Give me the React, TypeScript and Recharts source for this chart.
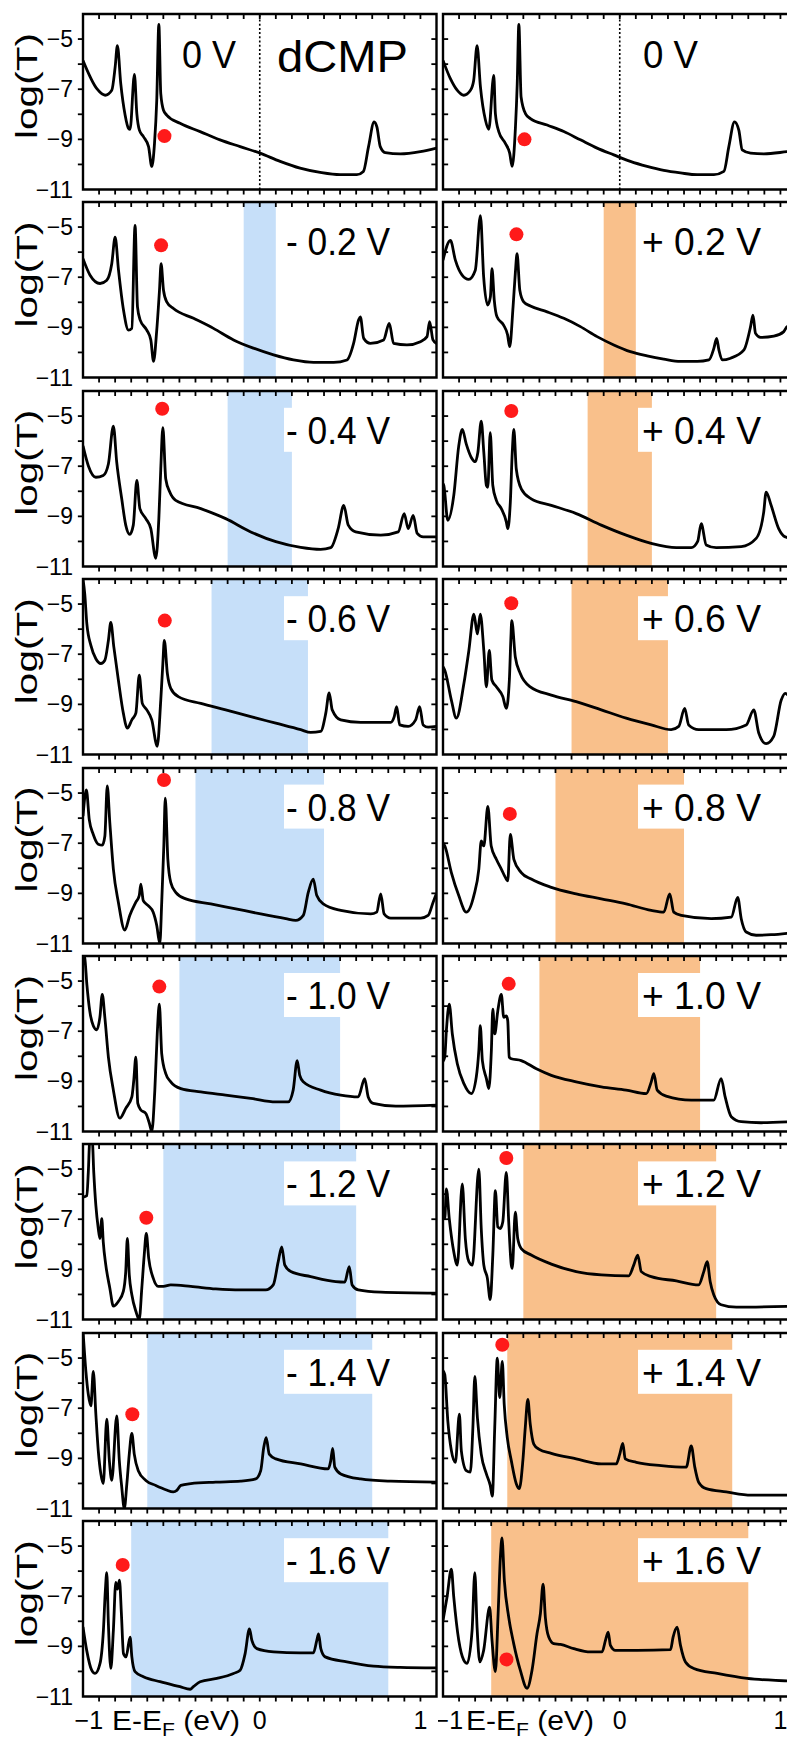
import React from 'react';
import { ComposedChart, Line, XAxis, YAxis, ReferenceArea, ReferenceDot, ReferenceLine } from 'recharts';

const FONT = "'Liberation Sans', Arial, Helvetica, sans-serif";

// ---- axis ticks ----
const X_TICKS = [-1, -0.9, -0.8, -0.7, -0.6, -0.5, -0.4, -0.3, -0.2, -0.1, 0, 0.1, 0.2, 0.3, 0.4, 0.5, 0.6, 0.7, 0.8, 0.9, 1];
const X_LABELS = [-1, 0, 1];
const Y_TICKS = [-11, -10, -9, -8, -7, -6, -5, -4];
const Y_MARKS = [-10, -9, -8, -7, -6, -5];
const Y_LABELS = [-11, -9, -7, -5];
const X_DOMAIN = [-1.1, 1.1];
const Y_DOMAIN = [-11, -4];

// ---- bias voltages (V) and labels ----
const BIAS = [0, 0.2, 0.4, 0.6, 0.8, 1.0, 1.2, 1.4, 1.6];
const LEFT_LABELS = ['0 V', '- 0.2 V', '- 0.4 V', '- 0.6 V', '- 0.8 V', '- 1.0 V', '- 1.2 V', '- 1.4 V', '- 1.6 V'];
const RIGHT_LABELS = ['0 V', '+ 0.2 V', '+ 0.4 V', '+ 0.6 V', '+ 0.8 V', '+ 1.0 V', '+ 1.2 V', '+ 1.4 V', '+ 1.6 V'];

// ---- transmission curves: [E-EF (eV), log(T)] ----
const curveL0 = [[-1.1,-5.86],[-1.014,-6.98],[-0.962,-7.24],[-0.921,-7.04],[-0.9,-6.12],[-0.886,-5.26],[-0.865,-6.78],[-0.838,-8.03],[-0.817,-8.56],[-0.807,-8.6],[-0.78,-6.41],[-0.765,-7.97],[-0.749,-8.63],[-0.724,-8.89],[-0.692,-9.29],[-0.672,-10.08],[-0.655,-9.16],[-0.641,-7.44],[-0.628,-4.41],[-0.616,-7.18],[-0.599,-7.84],[-0.579,-8.03],[-0.496,-8.36],[-0.371,-8.69],[-0.247,-9.02],[-0.122,-9.29],[0.002,-9.55],[0.127,-9.88],[0.251,-10.15],[0.376,-10.32],[0.5,-10.41],[0.604,-10.41],[0.645,-10.28],[0.677,-9.29],[0.712,-8.3],[0.729,-8.5],[0.75,-9.29],[0.781,-9.53],[0.875,-9.58],[1.0,-9.49],[1.1,-9.35]];
const curveR0 = [[-1.1,-5.85],[-1.054,-6.58],[-1.012,-7.04],[-0.971,-7.24],[-0.929,-7.04],[-0.909,-6.65],[-0.888,-5.26],[-0.867,-6.91],[-0.836,-8.23],[-0.815,-8.6],[-0.784,-6.45],[-0.774,-7.97],[-0.753,-8.69],[-0.712,-9.16],[-0.685,-9.55],[-0.67,-10.08],[-0.649,-8.5],[-0.638,-6.78],[-0.628,-4.41],[-0.614,-7.31],[-0.587,-7.97],[-0.556,-8.17],[-0.452,-8.43],[-0.348,-8.69],[-0.245,-9.02],[-0.141,-9.35],[-0.037,-9.62],[0.066,-9.88],[0.17,-10.08],[0.274,-10.24],[0.378,-10.34],[0.482,-10.41],[0.586,-10.41],[0.648,-10.28],[0.679,-9.29],[0.714,-8.3],[0.741,-8.63],[0.762,-9.42],[0.814,-9.55],[0.897,-9.58],[1.042,-9.49],[1.1,-9.45]];
const curveL1 = [[-1.1,-6.26],[-1.056,-6.92],[-0.994,-7.25],[-0.952,-7.12],[-0.921,-6.46],[-0.9,-5.4],[-0.879,-6.72],[-0.848,-8.31],[-0.817,-9.11],[-0.796,-9.04],[-0.776,-4.93],[-0.761,-8.18],[-0.744,-8.71],[-0.703,-9.11],[-0.678,-9.5],[-0.661,-10.36],[-0.641,-9.11],[-0.624,-7.52],[-0.614,-6.46],[-0.599,-7.52],[-0.579,-7.98],[-0.537,-8.25],[-0.412,-8.64],[-0.288,-9.04],[-0.163,-9.5],[-0.039,-9.83],[0.086,-10.1],[0.21,-10.3],[0.335,-10.4],[0.46,-10.4],[0.543,-10.3],[0.584,-9.64],[0.615,-8.71],[0.626,-8.58],[0.647,-9.44],[0.688,-9.64],[0.771,-9.5],[0.806,-8.84],[0.833,-9.64],[0.916,-9.7],[1.0,-9.57],[1.041,-9.37],[1.057,-8.77],[1.078,-9.5],[1.1,-9.64]];
const curveR1 = [[-1.1,-6.32],[-1.054,-5.53],[-1.023,-6.32],[-0.981,-6.92],[-0.94,-7.09],[-0.899,-6.72],[-0.867,-4.54],[-0.847,-6.99],[-0.822,-8.11],[-0.805,-7.78],[-0.795,-6.66],[-0.781,-7.91],[-0.764,-8.58],[-0.723,-8.91],[-0.698,-9.3],[-0.685,-9.77],[-0.664,-8.18],[-0.65,-6.85],[-0.639,-6.06],[-0.622,-7.52],[-0.598,-7.98],[-0.556,-8.15],[-0.452,-8.38],[-0.348,-8.64],[-0.245,-8.97],[-0.141,-9.37],[-0.037,-9.7],[0.066,-9.97],[0.17,-10.14],[0.274,-10.27],[0.378,-10.36],[0.482,-10.36],[0.555,-10.3],[0.586,-9.83],[0.603,-9.44],[0.617,-9.9],[0.638,-10.3],[0.69,-10.23],[0.773,-9.9],[0.814,-8.97],[0.829,-8.51],[0.845,-9.24],[0.876,-9.4],[0.959,-9.35],[1.021,-9.17],[1.042,-8.97],[1.1,-8.9]];
const curveL2 = [[-1.1,-6.19],[-1.067,-6.98],[-1.02,-7.44],[-0.974,-7.37],[-0.942,-6.91],[-0.911,-5.4],[-0.89,-6.85],[-0.859,-8.3],[-0.834,-9.35],[-0.809,-9.72],[-0.787,-9.35],[-0.765,-7.57],[-0.746,-8.69],[-0.709,-9.09],[-0.678,-9.49],[-0.647,-10.67],[-0.628,-9.09],[-0.616,-7.11],[-0.603,-5.46],[-0.585,-7.51],[-0.56,-8.03],[-0.523,-8.36],[-0.367,-8.69],[-0.212,-9.09],[-0.056,-9.62],[0.1,-10.01],[0.255,-10.24],[0.379,-10.32],[0.442,-10.25],[0.488,-9.49],[0.523,-8.56],[0.551,-9.35],[0.597,-9.62],[0.753,-9.75],[0.862,-9.62],[0.899,-8.89],[0.924,-9.49],[0.955,-8.96],[0.98,-9.68],[1.017,-9.82],[1.1,-9.82]];
const curveR2 = [[-1.1,-7.7],[-1.095,-7.77],[-1.07,-9.16],[-1.033,-8.17],[-1.002,-6.19],[-0.98,-5.53],[-0.955,-6.12],[-0.924,-6.65],[-0.899,-6.82],[-0.883,-6.45],[-0.862,-5.2],[-0.846,-6.45],[-0.83,-7.77],[-0.821,-7.84],[-0.806,-5.66],[-0.79,-7.77],[-0.768,-8.36],[-0.737,-8.69],[-0.706,-9.22],[-0.697,-9.49],[-0.681,-8.43],[-0.669,-6.45],[-0.659,-5.53],[-0.644,-7.11],[-0.613,-7.9],[-0.551,-8.3],[-0.426,-8.56],[-0.271,-8.89],[-0.115,-9.35],[0.04,-9.75],[0.196,-10.08],[0.352,-10.25],[0.445,-10.25],[0.485,-10.0],[0.507,-9.29],[0.538,-10.14],[0.6,-10.25],[0.756,-10.21],[0.849,-9.88],[0.896,-8.83],[0.911,-8.03],[0.942,-8.56],[0.989,-9.49],[1.03,-9.82],[1.1,-9.9]];
const curveL3 = [[-1.1,-4.0],[-1.089,-4.6],[-1.076,-5.79],[-1.051,-6.65],[-1.02,-7.18],[-0.989,-7.37],[-0.964,-7.24],[-0.942,-6.45],[-0.927,-5.73],[-0.908,-6.72],[-0.88,-8.03],[-0.849,-9.35],[-0.824,-9.95],[-0.796,-9.62],[-0.771,-9.35],[-0.75,-7.84],[-0.731,-8.96],[-0.703,-9.22],[-0.672,-9.62],[-0.638,-10.67],[-0.616,-8.83],[-0.603,-7.37],[-0.594,-6.45],[-0.575,-7.77],[-0.554,-8.36],[-0.507,-8.69],[-0.367,-8.96],[-0.212,-9.22],[-0.056,-9.49],[0.1,-9.75],[0.255,-10.01],[0.317,-10.12],[0.379,-10.08],[0.411,-9.35],[0.432,-8.54],[0.451,-9.22],[0.504,-9.62],[0.628,-9.72],[0.815,-9.72],[0.837,-9.49],[0.852,-9.09],[0.871,-9.82],[0.924,-9.88],[0.97,-9.62],[0.995,-9.09],[1.017,-9.82],[1.048,-9.91],[1.1,-9.88]];
const curveR3 = [[-1.1,-7.5],[-1.089,-7.64],[-1.048,-8.83],[-1.017,-9.55],[-0.97,-8.17],[-0.939,-6.85],[-0.908,-5.4],[-0.886,-6.19],[-0.868,-5.4],[-0.846,-6.85],[-0.83,-8.3],[-0.812,-6.85],[-0.796,-8.03],[-0.768,-8.3],[-0.728,-8.69],[-0.706,-9.16],[-0.687,-8.03],[-0.678,-6.45],[-0.672,-5.66],[-0.65,-7.11],[-0.619,-7.77],[-0.557,-8.3],[-0.426,-8.63],[-0.271,-8.89],[-0.115,-9.22],[0.04,-9.55],[0.196,-9.82],[0.32,-10.01],[0.367,-9.88],[0.404,-9.16],[0.429,-9.82],[0.491,-10.01],[0.663,-10.01],[0.787,-9.82],[0.834,-9.22],[0.865,-10.14],[0.911,-10.57],[0.958,-10.28],[1.005,-8.83],[1.03,-8.56],[1.1,-9.5]];
const curveL4 = [[-1.1,-5.92],[-1.079,-4.87],[-1.061,-6.06],[-1.036,-6.65],[-1.005,-7.04],[-0.98,-7.08],[-0.964,-6.72],[-0.949,-4.71],[-0.933,-6.19],[-0.911,-8.03],[-0.88,-9.35],[-0.84,-10.47],[-0.809,-9.88],[-0.771,-9.35],[-0.75,-9.09],[-0.74,-8.63],[-0.725,-9.29],[-0.694,-9.49],[-0.663,-9.75],[-0.641,-10.28],[-0.622,-11.0],[-0.61,-9.35],[-0.597,-7.11],[-0.588,-5.2],[-0.572,-7.64],[-0.554,-8.56],[-0.523,-8.96],[-0.46,-9.22],[-0.305,-9.42],[-0.149,-9.62],[0.006,-9.82],[0.162,-10.01],[0.224,-10.08],[0.271,-9.88],[0.302,-8.96],[0.333,-8.43],[0.355,-9.09],[0.395,-9.42],[0.504,-9.68],[0.691,-9.82],[0.728,-9.75],[0.753,-9.02],[0.774,-9.82],[0.815,-9.99],[1.002,-9.99],[1.048,-9.88],[1.079,-9.35],[1.1,-9.0]];
const curveR4 = [[-1.1,-7.0],[-1.089,-7.11],[-1.048,-8.17],[-1.002,-9.09],[-0.955,-9.75],[-0.908,-9.09],[-0.877,-8.03],[-0.862,-6.91],[-0.846,-7.11],[-0.821,-5.53],[-0.8,-7.11],[-0.768,-7.64],[-0.737,-8.03],[-0.706,-8.43],[-0.697,-8.5],[-0.681,-6.65],[-0.659,-7.64],[-0.613,-8.17],[-0.551,-8.43],[-0.426,-8.76],[-0.271,-9.02],[-0.115,-9.22],[0.04,-9.42],[0.196,-9.68],[0.274,-9.75],[0.311,-9.02],[0.336,-9.75],[0.383,-9.88],[0.569,-10.01],[0.694,-9.95],[0.734,-9.16],[0.756,-10.01],[0.787,-10.54],[0.849,-10.67],[0.942,-10.65],[1.1,-10.55]];
const curveL5 = [[-1.1,-3.9],[-1.089,-4.08],[-1.076,-5.13],[-1.058,-6.19],[-1.036,-6.78],[-1.014,-6.95],[-0.995,-6.45],[-0.98,-5.53],[-0.964,-6.45],[-0.942,-8.03],[-0.911,-9.35],[-0.871,-10.47],[-0.834,-10.08],[-0.796,-9.62],[-0.784,-8.96],[-0.771,-8.03],[-0.759,-9.88],[-0.74,-10.14],[-0.709,-10.28],[-0.687,-10.67],[-0.672,-11.0],[-0.653,-9.35],[-0.638,-7.11],[-0.625,-5.92],[-0.61,-7.9],[-0.585,-8.69],[-0.554,-9.02],[-0.491,-9.29],[-0.367,-9.42],[-0.212,-9.55],[-0.056,-9.68],[0.1,-9.82],[0.177,-9.82],[0.208,-9.35],[0.233,-8.17],[0.249,-8.76],[0.271,-9.02],[0.379,-9.35],[0.504,-9.55],[0.613,-9.62],[0.653,-8.89],[0.675,-9.62],[0.706,-9.88],[0.846,-9.99],[1.1,-9.95]];
const curveR5 = [[-1.1,-8.2],[-1.089,-8.03],[-1.079,-6.98],[-1.061,-5.92],[-1.042,-7.11],[-1.011,-8.3],[-0.97,-9.09],[-0.924,-9.49],[-0.893,-8.83],[-0.877,-7.77],[-0.868,-6.78],[-0.855,-8.17],[-0.83,-8.89],[-0.815,-9.29],[-0.799,-7.77],[-0.79,-6.12],[-0.778,-7.11],[-0.759,-6.19],[-0.737,-5.53],[-0.722,-6.45],[-0.706,-6.39],[-0.697,-6.58],[-0.688,-8.03],[-0.675,-8.1],[-0.613,-8.17],[-0.519,-8.5],[-0.426,-8.76],[-0.271,-9.02],[-0.115,-9.22],[0.04,-9.35],[0.165,-9.49],[0.196,-9.02],[0.212,-8.69],[0.233,-9.35],[0.289,-9.59],[0.445,-9.75],[0.585,-9.75],[0.631,-8.89],[0.656,-9.62],[0.694,-10.41],[0.756,-10.61],[0.88,-10.65],[1.1,-10.6]];
const curveL6 = [[-1.1,-6.12],[-1.076,-6.06],[-1.067,-5.13],[-1.058,-3.9],[-1.042,-3.9],[-1.033,-5.13],[-1.02,-6.45],[-1.005,-7.37],[-0.995,-7.77],[-0.983,-6.98],[-0.974,-7.9],[-0.958,-8.83],[-0.933,-9.75],[-0.911,-10.47],[-0.88,-10.28],[-0.849,-9.88],[-0.834,-9.09],[-0.824,-7.77],[-0.812,-9.22],[-0.796,-10.01],[-0.771,-10.67],[-0.75,-11.0],[-0.734,-9.75],[-0.719,-8.43],[-0.706,-7.57],[-0.691,-8.56],[-0.663,-9.35],[-0.632,-9.68],[-0.6,-9.68],[-0.554,-9.62],[-0.429,-9.68],[-0.274,-9.78],[-0.118,-9.82],[0.037,-9.82],[0.084,-9.62],[0.115,-8.69],[0.137,-8.1],[0.156,-8.83],[0.193,-9.09],[0.317,-9.29],[0.473,-9.49],[0.529,-9.51],[0.557,-8.89],[0.575,-9.62],[0.613,-9.82],[0.753,-9.91],[1.1,-9.95]];
const curveR6 = [[-1.1,-6.5],[-1.089,-6.98],[-1.079,-5.79],[-1.061,-6.98],[-1.033,-8.3],[-1.011,-8.83],[-0.98,-5.59],[-0.961,-7.77],[-0.939,-8.69],[-0.917,-8.83],[-0.877,-5.0],[-0.862,-7.37],[-0.846,-8.83],[-0.824,-9.35],[-0.806,-10.21],[-0.79,-8.43],[-0.774,-5.86],[-0.759,-7.31],[-0.744,-7.37],[-0.728,-7.11],[-0.706,-5.13],[-0.691,-7.11],[-0.675,-8.83],[-0.669,-8.96],[-0.65,-6.72],[-0.635,-7.77],[-0.613,-8.17],[-0.551,-8.43],[-0.426,-8.79],[-0.271,-9.09],[-0.115,-9.22],[0.056,-9.26],[0.087,-8.83],[0.112,-8.43],[0.134,-9.09],[0.196,-9.29],[0.352,-9.46],[0.491,-9.62],[0.523,-9.09],[0.544,-8.69],[0.563,-9.49],[0.585,-10.01],[0.631,-10.41],[0.725,-10.51],[1.1,-10.47]];
const curveL7 = [[-1.1,-3.9],[-1.082,-5.53],[-1.067,-6.45],[-1.051,-6.91],[-1.036,-5.53],[-1.02,-7.24],[-1.005,-8.69],[-0.989,-9.62],[-0.974,-10.01],[-0.952,-7.44],[-0.936,-9.09],[-0.921,-9.88],[-0.89,-7.31],[-0.874,-9.09],[-0.859,-10.14],[-0.843,-11.0],[-0.827,-10.01],[-0.812,-8.83],[-0.796,-8.0],[-0.781,-8.83],[-0.756,-9.49],[-0.709,-9.88],[-0.647,-10.08],[-0.585,-10.25],[-0.538,-10.34],[-0.516,-10.28],[-0.491,-10.08],[-0.429,-10.01],[-0.274,-9.95],[-0.118,-9.91],[-0.025,-9.82],[0.006,-9.49],[0.025,-8.56],[0.04,-8.17],[0.059,-8.83],[0.1,-9.02],[0.255,-9.22],[0.426,-9.42],[0.442,-9.09],[0.454,-8.6],[0.467,-9.35],[0.504,-9.62],[0.628,-9.82],[0.815,-9.91],[1.1,-9.95]];
const curveR7 = [[-1.1,-5.5],[-1.089,-5.66],[-1.07,-7.51],[-1.048,-8.69],[-1.023,-9.16],[-0.998,-7.24],[-0.986,-8.69],[-0.955,-9.49],[-0.93,-9.55],[-0.914,-7.77],[-0.902,-5.73],[-0.886,-7.37],[-0.862,-8.83],[-0.83,-9.62],[-0.806,-10.08],[-0.793,-10.51],[-0.778,-7.77],[-0.762,-5.0],[-0.747,-6.58],[-0.731,-5.13],[-0.719,-6.85],[-0.7,-8.17],[-0.675,-9.09],[-0.644,-10.01],[-0.625,-10.21],[-0.603,-9.09],[-0.588,-7.77],[-0.572,-6.65],[-0.557,-7.64],[-0.535,-8.43],[-0.504,-8.63],[-0.426,-8.8],[-0.271,-9.02],[-0.115,-9.22],[-0.022,-9.22],[0.0,-8.83],[0.019,-8.4],[0.034,-9.02],[0.103,-9.16],[0.258,-9.29],[0.414,-9.35],[0.445,-8.5],[0.467,-9.35],[0.491,-9.95],[0.538,-10.21],[0.663,-10.34],[0.818,-10.47],[1.1,-10.47]];
const curveL8 = [[-1.1,-8.23],[-1.077,-9.16],[-1.046,-9.95],[-1.025,-10.08],[-0.994,-9.68],[-0.973,-8.36],[-0.961,-6.78],[-0.952,-6.06],[-0.942,-8.1],[-0.927,-9.88],[-0.911,-8.36],[-0.896,-6.45],[-0.886,-6.72],[-0.873,-6.36],[-0.861,-7.7],[-0.848,-9.29],[-0.832,-9.42],[-0.807,-8.63],[-0.796,-9.42],[-0.776,-10.01],[-0.724,-10.21],[-0.62,-10.41],[-0.496,-10.61],[-0.433,-10.71],[-0.413,-10.61],[-0.371,-10.41],[-0.267,-10.28],[-0.163,-10.08],[-0.122,-9.95],[-0.091,-9.29],[-0.064,-8.3],[-0.049,-8.76],[-0.018,-9.09],[0.086,-9.22],[0.251,-9.26],[0.334,-9.26],[0.355,-8.76],[0.366,-8.5],[0.38,-9.09],[0.407,-9.42],[0.542,-9.62],[0.708,-9.79],[0.874,-9.84],[1.1,-9.86]];
const curveR8 = [[-1.1,-7.97],[-1.075,-7.04],[-1.048,-5.92],[-1.033,-7.04],[-1.002,-8.76],[-0.971,-9.55],[-0.95,-9.68],[-0.919,-8.36],[-0.902,-6.06],[-0.888,-8.23],[-0.871,-9.62],[-0.847,-9.16],[-0.81,-7.44],[-0.795,-8.76],[-0.774,-10.01],[-0.757,-7.7],[-0.743,-5.46],[-0.733,-4.67],[-0.718,-6.39],[-0.691,-7.84],[-0.66,-8.89],[-0.619,-9.95],[-0.577,-10.67],[-0.546,-9.95],[-0.515,-8.5],[-0.494,-7.7],[-0.477,-6.52],[-0.463,-7.84],[-0.442,-8.63],[-0.411,-8.89],[-0.369,-8.92],[-0.286,-9.09],[-0.182,-9.22],[-0.11,-9.22],[-0.089,-8.76],[-0.072,-8.43],[-0.058,-8.96],[-0.027,-9.16],[0.108,-9.16],[0.316,-9.13],[0.332,-8.63],[0.357,-8.23],[0.378,-8.96],[0.409,-9.62],[0.461,-9.88],[0.607,-10.08],[0.793,-10.28],[1.042,-10.38],[1.1,-10.4]];

const LEFT_CURVES = [curveL0, curveL1, curveL2, curveL3, curveL4, curveL5, curveL6, curveL7, curveL8];
const RIGHT_CURVES = [curveR0, curveR1, curveR2, curveR3, curveR4, curveR5, curveR6, curveR7, curveR8];

// ---- red markers: [E-EF, log(T)] ----
const LEFT_DOTS = [[-0.593,-8.87],[-0.614,-5.73],[-0.607,-4.71],[-0.591,-5.66],[-0.596,-4.48],[-0.625,-5.22],[-0.706,-6.94],[-0.793,-7.24],[-0.853,-5.75]];
const RIGHT_DOTS = [[-0.593,-9.0],[-0.643,-5.29],[-0.675,-4.8],[-0.675,-4.97],[-0.684,-5.83],[-0.691,-5.11],[-0.706,-4.56],[-0.731,-4.47],[-0.705,-9.52]];

const BLUE = '#c6dff9';
const ORANGE = '#f9c08b';

// ---- layout / style ----
const ROW_TOP0 = 14;
const ROW_STEP = 188.4;
const PLOT_H = 175.5;
const PLOT_W = 353.5;
const LEFT_AXIS_W = 83;
const RIGHT_PLOT_X = 443;
const MT = 5;
// tick-mark lengths expressed in axis units (about 5 px each)
const TICK_DY = 0.2;
const TICK_DX = 0.032;
const TICK_W = 1.8;

const BottomTickLabel = (props: any) => {
  const x = Number(props.x);
  const y = Number(props.y);
  const v = Number(props.payload.value);
  if (!X_LABELS.includes(v)) return <g />;
  const label = v < 0 ? '\u2212' + Math.abs(v) : String(v);
  return (
    <text x={v < 0 ? x + 4 : x} y={y + 32} textAnchor={v < 0 ? 'end' : 'middle'} fontSize={25} fontFamily={FONT} fill="#000">
      {label}
    </text>
  );
};

const LeftTickLabel = (props: any) => {
  const x = Number(props.x);
  const y = Number(props.y);
  const v = Number(props.payload.value);
  if (!Y_LABELS.includes(v)) return <g />;
  return (
    <text x={x - 10} y={y + 8} textAnchor="end" fontSize={23} fontFamily={FONT} fill="#000">
      {'\u2212' + Math.abs(v)}
    </text>
  );
};

function Panel({ row, side }: { row: number; side: 'L' | 'R' }) {
  const curve = side === 'L' ? LEFT_CURVES[row] : RIGHT_CURVES[row];
  const dot = side === 'L' ? LEFT_DOTS[row] : RIGHT_DOTS[row];
  const half = BIAS[row] / 2;
  const fill = side === 'L' ? BLUE : ORANGE;
  const data = curve.map(([x, y]) => ({ x, y }));
  const isLeft = side === 'L';
  const ml = isLeft ? 0 : 5;
  const width = (isLeft ? LEFT_AXIS_W : ml) + PLOT_W + 3;
  const height = MT + PLOT_H + 45;
  const top = ROW_TOP0 + row * ROW_STEP - MT;
  const left = isLeft ? 0 : RIGHT_PLOT_X - ml;
  const lastRow = row === BIAS.length - 1;
  const [x0, x1] = X_DOMAIN;
  const [y0, y1] = Y_DOMAIN;

  // tick marks (drawn via library scales as short reference segments)
  const segs: { a: { x: number; y: number }; b: { x: number; y: number } }[] = [];
  X_TICKS.forEach((t) => {
    segs.push({ a: { x: t, y: y0 }, b: { x: t, y: y0 - TICK_DY } }); // bottom, outward
    segs.push({ a: { x: t, y: y1 }, b: { x: t, y: y1 - TICK_DY } }); // top, inward
  });
  Y_MARKS.forEach((v) => {
    if (isLeft) segs.push({ a: { x: x0 - TICK_DX, y: v }, b: { x: x0, y: v } }); // left, outward
    else segs.push({ a: { x: x0, y: v }, b: { x: x0 + TICK_DX, y: v } }); // left, inward
    segs.push({ a: { x: x1 - TICK_DX, y: v }, b: { x: x1, y: v } }); // right, inward
  });

  return (
    <div style={{ position: 'absolute', left, top }}>
      <ComposedChart width={width} height={height} data={data} margin={{ top: MT, right: 3, bottom: 0, left: ml }}>
        {half > 0 && (
          <ReferenceArea xAxisId="b" yAxisId="l" x1={-half} x2={half} y1={y0} y2={y1} fill={fill} fillOpacity={1} stroke="none" ifOverflow="hidden" />
        )}
        <XAxis
          xAxisId="b"
          dataKey="x"
          type="number"
          domain={X_DOMAIN}
          allowDataOverflow
          ticks={X_TICKS}
          interval={0}
          height={45}
          tickSize={0}
          tickMargin={0}
          axisLine={false}
          tickLine={false}
          tick={lastRow ? BottomTickLabel : false}
        />
        <YAxis
          yAxisId="l"
          type="number"
          domain={Y_DOMAIN}
          allowDataOverflow
          ticks={Y_TICKS}
          interval={0}
          width={isLeft ? LEFT_AXIS_W : 0}
          mirror={!isLeft}
          tickSize={0}
          tickMargin={0}
          axisLine={false}
          tickLine={false}
          tick={isLeft ? LeftTickLabel : false}
        />
        {row === 0 && (
          <ReferenceLine xAxisId="b" yAxisId="l" x={0} stroke="#000" strokeWidth={1.6} strokeDasharray="2 2.2" />
        )}
        {segs.map((s, k) => (
          <ReferenceLine
            key={k}
            xAxisId="b"
            yAxisId="l"
            segment={[s.a, s.b]}
            stroke="#000"
            strokeWidth={TICK_W}
            ifOverflow="visible"
          />
        ))}
        <Line
          xAxisId="b"
          yAxisId="l"
          dataKey="y"
          type="monotone"
          stroke="#000"
          strokeWidth={2.8}
          dot={false}
          activeDot={false}
          isAnimationActive={false}
        />
        <ReferenceDot xAxisId="b" yAxisId="l" x={dot[0]} y={dot[1]} r={7} fill="#ff1a1a" stroke="none" ifOverflow="visible" />
        <ReferenceArea xAxisId="b" yAxisId="l" x1={x0} x2={x1} y1={y0} y2={y1} fill="none" fillOpacity={0} stroke="#000" strokeWidth={2.4} ifOverflow="visible" />
      </ComposedChart>
    </div>
  );
}

function Overlay() {
  const rows = BIAS.map((_, i) => i);
  return (
    <svg width={787} height={1743} style={{ position: 'absolute', left: 0, top: 0, pointerEvents: 'none' }}>
      {rows.map((i) => {
        const T = ROW_TOP0 + i * ROW_STEP;
        return (
          <g key={i} fontFamily={FONT} fill="#000">
            <text
              transform={`translate(37, ${T + 72}) rotate(-90)`}
              textAnchor="middle"
              fontSize={30}
              textLength={106}
              lengthAdjust="spacingAndGlyphs"
            >
              log(T)
            </text>
            {i === 0 ? (
              <>
                <text x={182} y={T + 54} fontSize={39} textLength={54} lengthAdjust="spacingAndGlyphs">{LEFT_LABELS[0]}</text>
                <text x={277} y={T + 58} fontSize={45} textLength={131} lengthAdjust="spacingAndGlyphs">dCMP</text>
                <text x={643} y={T + 54} fontSize={39} textLength={55} lengthAdjust="spacingAndGlyphs">{RIGHT_LABELS[0]}</text>
              </>
            ) : (
              <>
                <rect x={284} y={T + 17} width={124} height={44} fill="#fff" />
                <text x={286} y={T + 53} fontSize={39} textLength={104} lengthAdjust="spacingAndGlyphs">{LEFT_LABELS[i]}</text>
                <rect x={638} y={T + 17} width={130} height={44} fill="#fff" />
                <text x={642} y={T + 53} fontSize={39} textLength={119} lengthAdjust="spacingAndGlyphs">{RIGHT_LABELS[i]}</text>
              </>
            )}
          </g>
        );
      })}
      <g fontFamily={FONT} fill="#000">
        <text x={112} y={1730} fontSize={27} textLength={128} lengthAdjust="spacingAndGlyphs">
          E-E<tspan fontSize={19} dy={6}>F</tspan><tspan dy={-6}> (eV)</tspan>
        </text>
        <text x={466} y={1730} fontSize={27} textLength={128} lengthAdjust="spacingAndGlyphs">
          E-E<tspan fontSize={19} dy={6}>F</tspan><tspan dy={-6}> (eV)</tspan>
        </text>
      </g>
    </svg>
  );
}

export default function App() {
  const rows = BIAS.map((_, i) => i);
  return (
    <div style={{ position: 'absolute', left: 0, top: 0, width: 787, height: 1743, overflow: 'hidden', background: '#fff' }}>
      {rows.map((i) => (
        <React.Fragment key={i}>
          <Panel row={i} side="L" />
          <Panel row={i} side="R" />
        </React.Fragment>
      ))}
      <Overlay />
    </div>
  );
}
